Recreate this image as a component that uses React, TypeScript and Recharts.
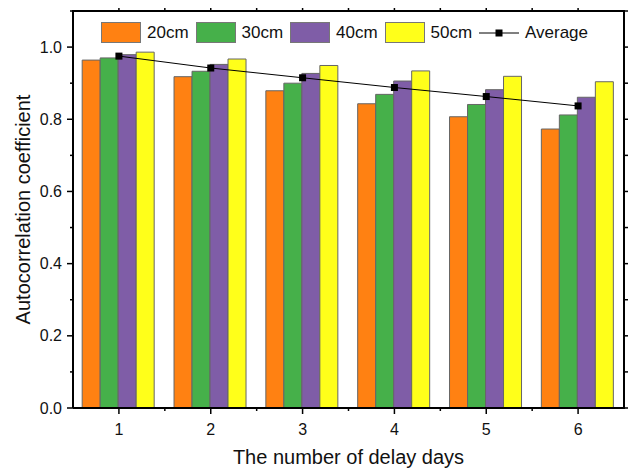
import { ComposedChart, Bar, Line, XAxis, YAxis } from "recharts";

const days = ["1", "2", "3", "4", "5", "6"];
const d20 = [0.964, 0.918, 0.879, 0.843, 0.807, 0.773];
const d30 = [0.970, 0.933, 0.900, 0.869, 0.841, 0.812];
const d40 = [0.979, 0.952, 0.927, 0.906, 0.882, 0.861];
const d50 = [0.986, 0.967, 0.949, 0.934, 0.919, 0.904];
const avg = [0.975, 0.942, 0.915, 0.888, 0.863, 0.837];
const yTicks = [0, 0.1, 0.2, 0.3, 0.4, 0.5, 0.6, 0.7, 0.8, 0.9, 1.0, 1.1];

const FONT = "'Liberation Sans', Arial, sans-serif";
const AXIS = "#000";

const W = 636;
const H = 473;
const MARGIN = { top: 11, right: 12, bottom: 0, left: 8 };
const X_AXIS_H = 65;
const Y_AXIS_W = 65;
const PLOT_TOP = MARGIN.top;
const PLOT_RIGHT = W - MARGIN.right;
const PLOT_LEFT = MARGIN.left + Y_AXIS_W;
const PLOT_BOTTOM = H - MARGIN.bottom - X_AXIS_H;

const SERIES = [
  { key: "c20", name: "20cm", color: "#FF8112" },
  { key: "c30", name: "30cm", color: "#46B04A" },
  { key: "c40", name: "40cm", color: "#7F5DA7" },
  { key: "c50", name: "50cm", color: "#FFFF1A" },
];

const data = days.map((d, i) => ({
  day: d, c20: d20[i], c30: d30[i], c40: d40[i], c50: d50[i], avg: avg[i],
}));

function isMajor(v: number) {
  return Math.round(v * 10) % 2 === 0;
}

function LeftTick(props: any) {
  const { x, y, payload } = props;
  const v = payload.value;
  const major = isMajor(v);
  return (
    <g>
      <line x1={x} x2={x - (major ? 6 : 3)} y1={y} y2={y} stroke={AXIS} strokeWidth={1.5} />
      <line x1={PLOT_RIGHT} x2={PLOT_RIGHT + (major ? 6 : 4)} y1={y} y2={y} stroke={AXIS} strokeWidth={1.5} />
      {major && v <= 1.0 && (
        <text x={x - 11} y={y} dy={5.5} textAnchor="end" fontSize={16} fontFamily={FONT} fill="#111">
          {v.toFixed(1)}
        </text>
      )}
    </g>
  );
}

function BottomTick(props: any) {
  const { x, y, payload, index } = props;
  const half = payload.offset || 0;
  const last = index >= days.length - 1;
  return (
    <g>
      <line x1={x} x2={x} y1={y} y2={y + 6} stroke={AXIS} strokeWidth={1.5} />
      <line x1={x} x2={x} y1={PLOT_TOP} y2={PLOT_TOP - 6} stroke={AXIS} strokeWidth={1.5} />
      {!last && (
        <g>
          <line x1={x + half} x2={x + half} y1={y} y2={y + 3} stroke={AXIS} strokeWidth={1.5} />
          <line x1={x + half} x2={x + half} y1={PLOT_TOP} y2={PLOT_TOP - 4} stroke={AXIS} strokeWidth={1.5} />
        </g>
      )}
      <text x={x} y={y + 27} textAnchor="middle" fontSize={16} fontFamily={FONT} fill="#111">
        {payload.value}
      </text>
    </g>
  );
}

function SquareDot(props: any) {
  const { cx, cy } = props;
  if (cx == null || cy == null) return null;
  return <rect x={cx - 3.5} y={cy - 3.5} width={7} height={7} fill="#000" />;
}

function LegendBox() {
  return (
    <div
      style={{
        position: "absolute", top: 22, left: 101,
        display: "flex", alignItems: "center", fontFamily: FONT, fontSize: 17, color: "#111",
      }}
    >
      {SERIES.map((s) => (
        <div key={s.key} style={{ display: "flex", alignItems: "center", width: 94.5 }}>
          <span style={{ width: 38, height: 19, background: s.color, border: "1px solid #777", boxSizing: "content-box" }} />
          <span style={{ marginLeft: 6 }}>{s.name}</span>
        </div>
      ))}
      <div style={{ display: "flex", alignItems: "center" }}>
        <svg width={40} height={10}>
          <line x1={0} x2={40} y1={5} y2={5} stroke="#000" strokeWidth={1} />
          <rect x={16.5} y={1.5} width={7} height={7} fill="#000" />
        </svg>
        <span style={{ marginLeft: 6 }}>Average</span>
      </div>
    </div>
  );
}

// plot frame (top and right sides) as a plain overlay
function Frame() {
  return (
    <div
      style={{
        position: "absolute",
        left: PLOT_LEFT - 1,
        top: PLOT_TOP - 1,
        width: PLOT_RIGHT - PLOT_LEFT,
        height: PLOT_BOTTOM - PLOT_TOP,
        borderTop: "2px solid #000",
        borderRight: "2px solid #000",
        pointerEvents: "none",
      }}
    />
  );
}

export default function App() {
  return (
    <div style={{ position: "relative", width: W, height: H, margin: "-8px 0 0 -8px" }}>
      <ComposedChart
        width={W}
        height={H}
        data={data}
        margin={MARGIN}
        barCategoryGap="10%"
        barGap={0}
        style={{ overflow: "visible" }}
      >
        <XAxis
          dataKey="day"
          height={X_AXIS_H}
          axisLine={{ stroke: AXIS, strokeWidth: 2 }}
          tickLine={false}
          tickSize={0}
          tickMargin={0}
          tick={<BottomTick />}
          interval={0}
          label={{ value: "The number of delay days", position: "insideBottom", offset: 9, style: { fontSize: 20, fontFamily: FONT, fill: "#111" } }}
        />
        <YAxis
          domain={[0, 1.1]}
          ticks={yTicks}
          width={Y_AXIS_W}
          interval={0}
          axisLine={{ stroke: AXIS, strokeWidth: 2 }}
          tickLine={false}
          tickSize={0}
          tickMargin={0}
          tick={<LeftTick />}
          label={{ value: "Autocorrelation coefficient", angle: -90, position: "center", dx: -18, style: { fontSize: 20, fontFamily: FONT, fill: "#111", textAnchor: "middle" } }}
        />
        {SERIES.map((s) => (
          <Bar
            key={s.key}
            dataKey={s.key}
            name={s.name}
            fill={s.color}
            stroke="#666"
            strokeWidth={1}
            isAnimationActive={false}
          />
        ))}
        <Line
          dataKey="avg"
          name="Average"
          stroke="#000"
          strokeWidth={1}
          dot={<SquareDot />}
          activeDot={false}
          isAnimationActive={false}
        />
      </ComposedChart>
      <Frame />
      <LegendBox />
    </div>
  );
}
